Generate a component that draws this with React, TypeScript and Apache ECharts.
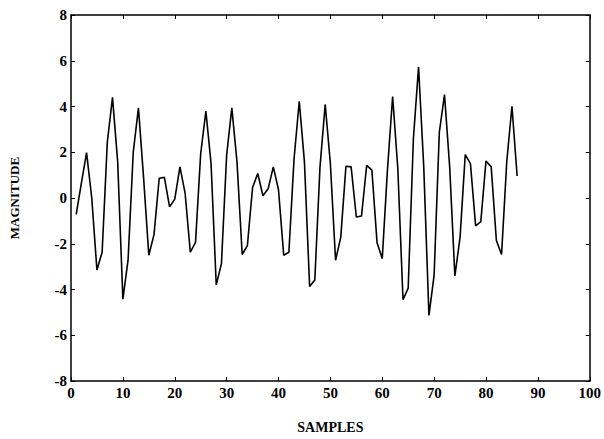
import React, { useEffect, useRef } from "react";
import * as echarts from "echarts";

const samples: number[] = Array.from({ length: 86 }, (_, i) => i + 1);
const magnitude: number[] = [
  -0.72, 0.65, 1.98, 0.0, -3.15, -2.37, 2.44, 4.4, 1.58, -4.42,
  -2.72, 2.0, 3.94, 0.86, -2.5, -1.6, 0.86, 0.9, -0.39, -0.05,
  1.36, 0.2, -2.37, -1.94, 1.94, 3.8, 1.5, -3.8, -2.87, 1.86,
  3.94, 1.58, -2.47, -2.08, 0.46, 1.07, 0.1, 0.4, 1.36, 0.36,
  -2.5, -2.37, 1.72, 4.23, 1.58, -3.87, -3.58, 1.36, 4.09, 1.5,
  -2.72, -1.72, 1.39, 1.36, -0.83, -0.79, 1.43, 1.22, -1.96, -2.65,
  1.22, 4.44, 1.29, -4.44, -3.94, 2.58, 5.73, 1.36, -5.13, -3.37,
  2.87, 4.52, 1.35, -3.41, -1.72, 1.9, 1.5, -1.22, -1.03, 1.62,
  1.36, -1.86, -2.47, 1.58, 4.01, 0.96,
];

const FONT = "'Liberation Serif', 'Times New Roman', Times, serif";

export default function App() {
  const ref = useRef<HTMLDivElement>(null);
  useEffect(() => {
    if (!ref.current) return;
    const chart = echarts.init(ref.current, undefined, { renderer: "svg" });
    const axisLine = { show: true, onZero: false, lineStyle: { color: "#000", width: 1.5 } };
    const tick = { show: true, inside: true, length: 4, lineStyle: { color: "#000", width: 1 } };
    chart.setOption({
      animation: false,
      backgroundColor: "#fff",
      grid: { left: 70, right: 12, top: 15, bottom: 54, containLabel: false },
      xAxis: [
        {
          type: "value",
          min: 0,
          max: 100,
          interval: 10,
          name: "SAMPLES",
          nameLocation: "middle",
          nameGap: 39,
          nameTextStyle: { fontFamily: FONT, fontSize: 14, fontWeight: "bold", color: "#000" },
          axisLine,
          axisTick: tick,
          splitLine: { show: false },
          axisLabel: { fontFamily: FONT, fontSize: 15, fontWeight: "bold", color: "#000", margin: 4 },
        },
        {
          type: "value",
          position: "top",
          min: 0,
          max: 100,
          interval: 10,
          axisLine,
          axisTick: tick,
          splitLine: { show: false },
          axisLabel: { show: false },
        },
      ],
      yAxis: [
        {
          type: "value",
          min: -8,
          max: 8,
          interval: 2,
          name: "MAGNITUDE",
          nameLocation: "middle",
          nameGap: 50,
          nameTextStyle: { fontFamily: FONT, fontSize: 13, fontWeight: "bold", color: "#000" },
          axisLine,
          axisTick: tick,
          splitLine: { show: false },
          axisLabel: { fontFamily: FONT, fontSize: 15, fontWeight: "bold", color: "#000", margin: 4 },
        },
        {
          type: "value",
          position: "right",
          min: -8,
          max: 8,
          interval: 2,
          axisLine,
          axisTick: tick,
          splitLine: { show: false },
          axisLabel: { show: false },
        },
      ],
      series: [
        {
          type: "line",
          data: samples.map((s, i) => [s, magnitude[i]]),
          showSymbol: false,
          lineStyle: { color: "#000", width: 1.6 },
          xAxisIndex: 0,
          yAxisIndex: 0,
        },
      ],
    });
    return () => chart.dispose();
  }, []);
  return <div ref={ref} style={{ width: 604, height: 439, position: "absolute", left: 0, top: 0 }} />;
}
